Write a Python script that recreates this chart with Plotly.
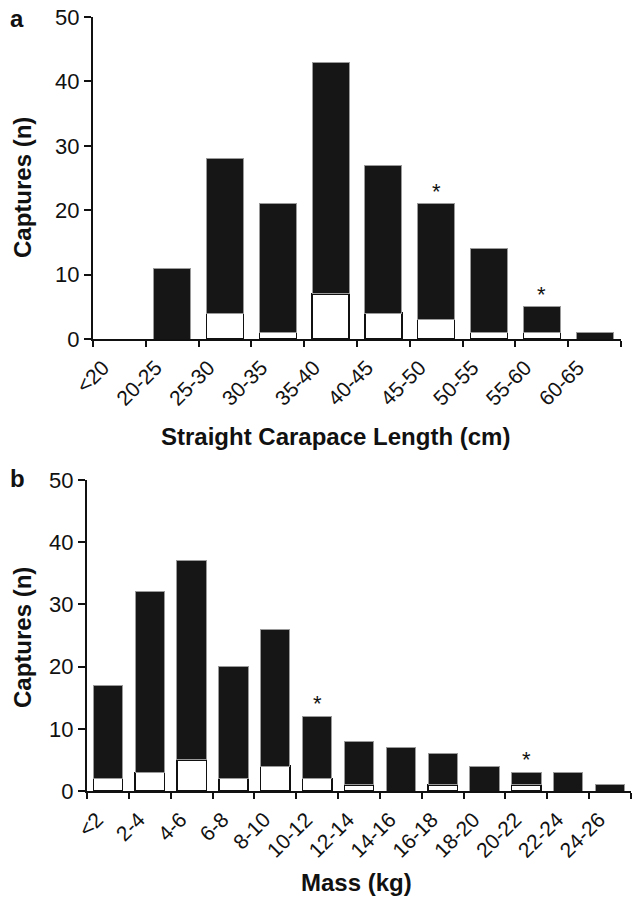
import plotly.graph_objects as go

# ---- Data ----
scl_labels = ["<20", "20-25", "25-30", "30-35", "35-40", "40-45", "45-50", "50-55", "55-60", "60-65"]
scl_total = [0, 11, 28, 21, 43, 27, 21, 14, 5, 1]
scl_recap = [0, 0, 4, 1, 7, 4, 3, 1, 1, 0]
scl_star = ["45-50", "55-60"]

mass_labels = ["<2", "2-4", "4-6", "6-8", "8-10", "10-12", "12-14", "14-16", "16-18", "18-20", "20-22", "22-24", "24-26"]
mass_total = [17, 32, 37, 20, 26, 12, 8, 7, 6, 4, 3, 3, 1]
mass_recap = [2, 3, 5, 2, 4, 2, 1, 0, 1, 0, 1, 0, 0]
mass_star = ["10-12", "20-22"]

W, H = 632, 900
FONT = "Liberation Sans, Arial, Helvetica, sans-serif"
BLACK = "#161616"


def px(x):
    return x / W


def py(y):
    return 1 - y / H


fig = go.Figure()


def nz(v):
    return [a if a > 0 else None for a in v]


def add_panel(labels, total, recap, stars, xa, ya):
    pos = [i + 0.5 for i in range(len(labels))]
    black = [t - r for t, r in zip(total, recap)]
    fig.add_trace(go.Bar(x=pos, y=nz(recap), width=0.7, xaxis=xa, yaxis=ya,
                         marker=dict(color="white", line=dict(color="#111111", width=1.5)),
                         showlegend=False, hoverinfo="skip"))
    fig.add_trace(go.Bar(x=pos, y=nz(black), width=0.7, xaxis=xa, yaxis=ya,
                         marker=dict(color=BLACK, line=dict(color="#9a9a9a", width=1)),
                         showlegend=False, hoverinfo="skip"))
    for s in stars:
        i = labels.index(s)
        fig.add_annotation(x=pos[i], y=total[i], xref=xa, yref=ya, text="*",
                           showarrow=False, yanchor="bottom", yshift=-2,
                           font=dict(family=FONT, size=22, color="#111111"))


add_panel(scl_labels, scl_total, scl_recap, scl_star, "x", "y")
add_panel(mass_labels, mass_total, mass_recap, mass_star, "x2", "y2")

xcommon = dict(showline=True, linewidth=2, linecolor="#111111", ticks="outside",
               ticklen=6, tickwidth=2, tickcolor="#111111", showgrid=False,
               zeroline=False, tickangle=-45, automargin=False,
               ticklabelshift=10, ticklabelstandoff=0,
               tickfont=dict(family=FONT, size=21, color="#111111"))
ycommon = dict(showline=True, linewidth=2, linecolor="#111111", ticks="outside",
               ticklen=7, tickwidth=2, tickcolor="#111111", showgrid=False,
               zeroline=False, range=[0, 50], dtick=10, tick0=0, automargin=False,
               tickfont=dict(family=FONT, size=22, color="#111111"))

fig.update_layout(
    template="none",
    width=W, height=H,
    margin=dict(l=0, r=0, t=0, b=0),
    paper_bgcolor="white", plot_bgcolor="white",
    barmode="stack",
    xaxis=dict(xcommon, domain=[px(93), px(621)], range=[0, len(scl_labels)],
               tickvals=list(range(len(scl_labels) + 1)), ticktext=scl_labels + [""],
               anchor="y"),
    yaxis=dict(ycommon, domain=[py(339), py(17)], anchor="x"),
    xaxis2=dict(xcommon, domain=[px(87), px(631)], range=[0, len(mass_labels)],
                tickvals=list(range(len(mass_labels) + 1)), ticktext=mass_labels + [""],
                anchor="y2"),
    yaxis2=dict(ycommon, domain=[py(791), py(480)], anchor="x2"),
)

tfont = dict(family=FONT, size=24, color="#111111")
annots = [
    ("<b>a</b>", 17, 19, 0),
    ("<b>b</b>", 17, 478, 0),
    ("<b>Straight Carapace Length (cm)</b>", 336, 437, 0),
    ("<b>Mass (kg)</b>", 356, 882, 0),
    ("<b>Captures (n)</b>", 22, 188, -90),
    ("<b>Captures (n)</b>", 22, 638, -90),
]
for txt, x, y, ang in annots:
    fig.add_annotation(x=px(x), y=py(y), xref="paper", yref="paper", text=txt,
                       showarrow=False, xanchor="center", yanchor="middle",
                       textangle=ang, font=tfont)

fig.write_html("out.html")
